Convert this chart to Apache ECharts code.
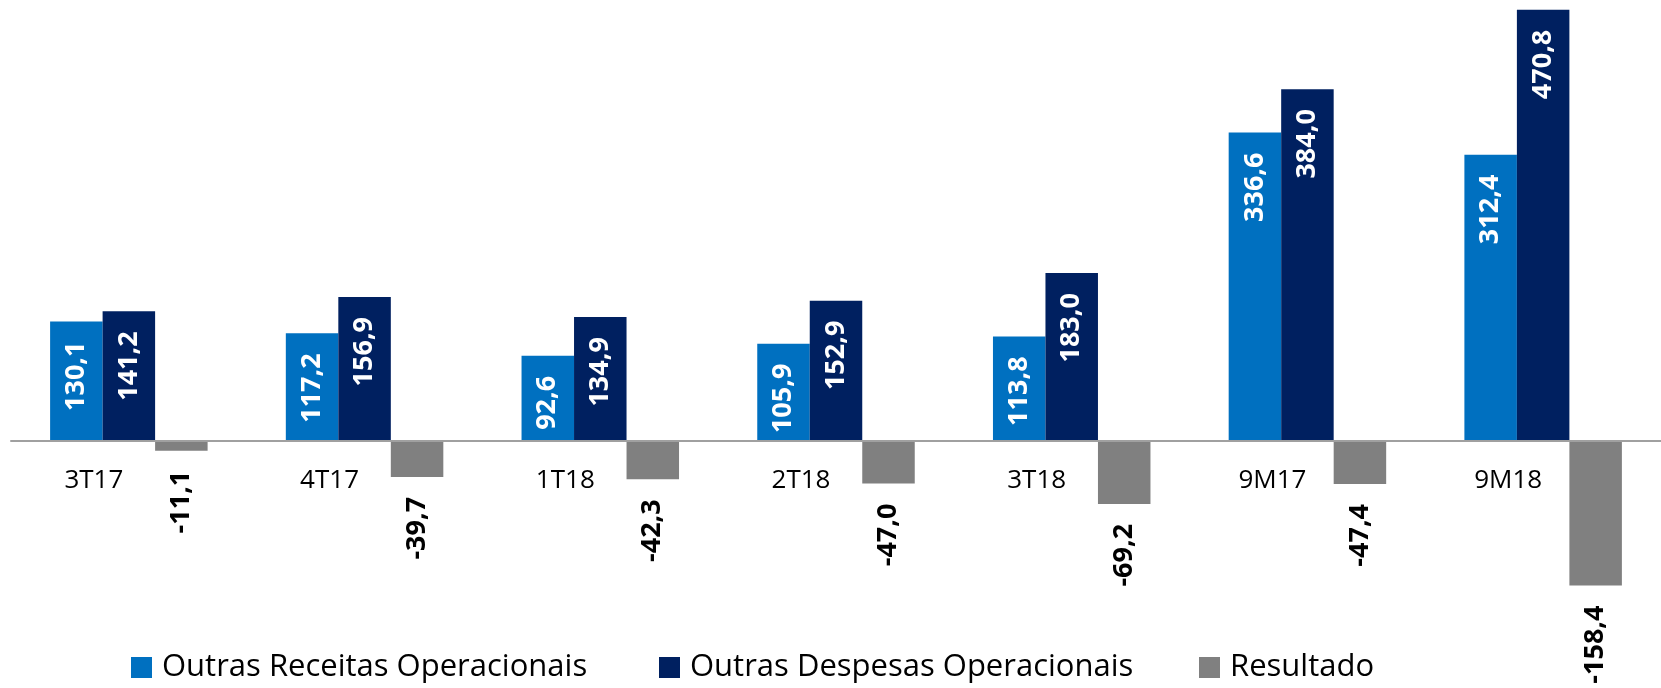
<!DOCTYPE html>
<html>
<head>
<meta charset="utf-8">
<script src="https://cdn.jsdelivr.net/npm/echarts@6/dist/echarts.min.js"></script>
<style>
  html, body { margin: 0; padding: 0; background: #fff; }
  #main { width: 1661px; height: 688px; }
</style>
</head>
<body>
<div id="main"></div>
<script>
const categorias = ['3T17', '4T17', '1T18', '2T18', '3T18', '9M17', '9M18'];
const receitas = [130.1, 117.2, 92.6, 105.9, 113.8, 336.6, 312.4];
const despesas = [141.2, 156.9, 134.9, 152.9, 183.0, 384.0, 470.8];
const resultado = [-11.1, -39.7, -42.3, -47.0, -69.2, -47.4, -158.4];

const fonte = 'Open Sans';
const fmt = p => p.value.toFixed(1).replace('.', ',');

const myChart = echarts.init(document.getElementById('main'));

function rotulo(pos, cor) {
    return {
        show: true,
        position: pos,
        rotate: 90,
        align: 'right',
        verticalAlign: 'middle',
        distance: 20,
        color: cor,
        fontFamily: fonte,
        fontWeight: 'bold',
        fontSize: 27,
        formatter: fmt
    };
}

function legenda(nome, x) {
    return {
        data: [nome],
        left: x,
        top: 647,
        itemWidth: 21,
        itemHeight: 21,
        icon: 'rect',
        textStyle: { fontFamily: fonte, fontSize: 31, color: '#000', padding: [0, 0, 0, 5] }
    };
}

option = {
    backgroundColor: '#fff',
    animation: false,
    legend: [
        legenda('Outras Receitas Operacionais', 126),
        legenda('Outras Despesas Operacionais', 654),
        legenda('Resultado', 1194)
    ],
    grid: {
        left: 11,
        right: -14,
        top: 1.3,
        bottom: 101
    },
    xAxis: {
        type: 'category',
        data: categorias,
        z: 10,
        axisLine: { onZero: true, lineStyle: { color: '#A0A0A0', width: 2 } },
        axisTick: { show: false },
        axisLabel: {
            color: '#000',
            fontFamily: fonte,
            fontSize: 26,
            // os rótulos ficam logo abaixo da linha do zero
            margin: -119,
            padding: [0, 70, 0, 0]
        }
    },
    yAxis: {
        type: 'value',
        min: -160,
        max: 480,
        show: false,
        splitLine: { show: false }
    },
    series: [
        {
            name: 'Outras Receitas Operacionais',
            type: 'bar',
            data: receitas,
            barWidth: 52.5,
            barGap: '0%',
            itemStyle: { color: '#0070C0' },
            label: rotulo('insideTop', '#fff')
        },
        {
            name: 'Outras Despesas Operacionais',
            type: 'bar',
            data: despesas,
            barWidth: 52.5,
            barGap: '0%',
            itemStyle: { color: '#002060' },
            label: rotulo('insideTop', '#fff')
        },
        {
            name: 'Resultado',
            type: 'bar',
            data: resultado,
            barWidth: 52.5,
            barGap: '0%',
            itemStyle: { color: '#808080' },
            label: rotulo('bottom', '#000')
        }
    ]
};

myChart.setOption(option);
</script>
</body>
</html>
